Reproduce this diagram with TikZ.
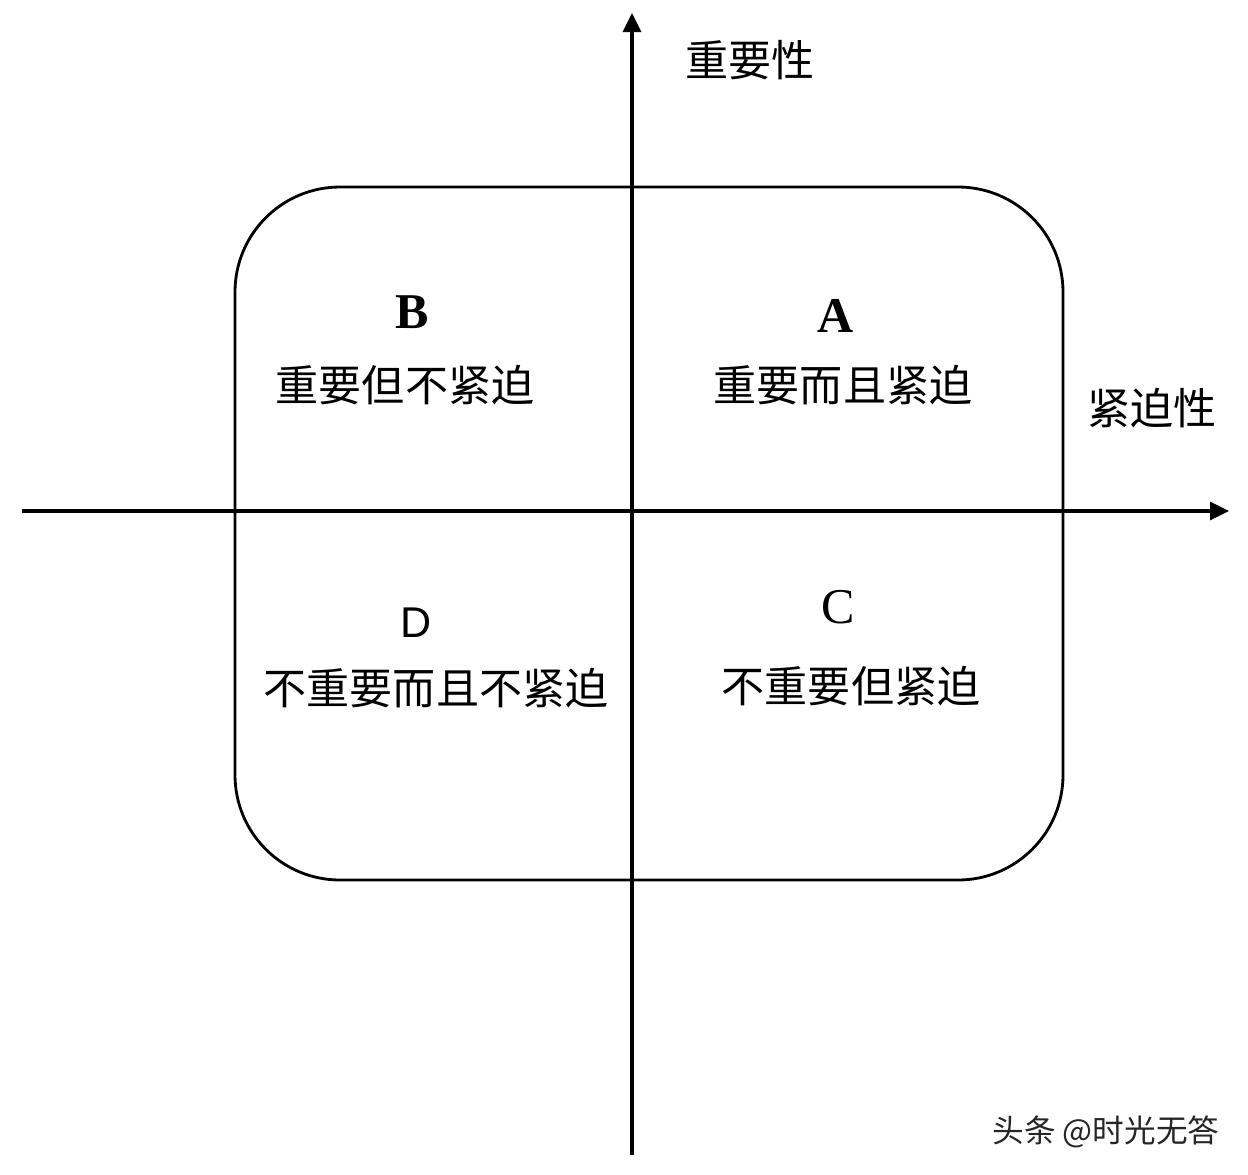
\documentclass[tikz,border=0pt]{standalone}
\usepackage{fontspec}
\setmainfont{Liberation Serif}
\newfontfamily\cjk{Noto Sans CJK SC}
\newfontfamily\lsans{Liberation Sans}
\usetikzlibrary{arrows.meta}
\begin{document}
\begin{tikzpicture}[x=0.02cm,y=-0.02cm,
  axisline/.style={line width=1.8pt,-{Triangle[length=0.38cm,width=0.36cm]}},
  frameline/.style={line width=1.6pt,rounded corners=2.1cm},
  cjklabel/.style={inner sep=0pt,font=\cjk\fontsize{24.5}{26}\selectfont},
  letterlabel/.style={inner sep=0pt,font=\fontsize{28.5}{30}\selectfont},
  mark label/.style={inner sep=0pt,font=\cjk\fontsize{18}{20}\selectfont,text=black!85}]
\useasboundingbox (0,0) rectangle (1248,1174);
\fill[white] (0,0) rectangle (1248,1174);
% axes
\coordinate (vbot) at (632,1155);
\coordinate (vtop) at (632,13);
\coordinate (hleft) at (22,511);
\coordinate (hright) at (1229,511);
\draw[frameline] (235,187) rectangle (1063,880);
\draw[axisline] (vbot) -- (vtop);
\draw[axisline] (hleft) -- (hright);
% axis labels
\node[cjklabel] (imp) at (750,60) {重要性};
\node[cjklabel] (urg) at (1152,408) {紧迫性};
% quadrants
\node[letterlabel,font=\bfseries\fontsize{28.5}{30}\selectfont] (B) at (412,312) {B};
\node[cjklabel] (Bt) at (405,385) {重要但不紧迫};
\node[letterlabel,font=\bfseries\fontsize{28.5}{30}\selectfont] (A) at (836,316) {A};
\node[cjklabel] (At) at (843,385) {重要而且紧迫};
\node[letterlabel,font=\lsans\fontsize{24.5}{26}\selectfont] (D) at (416,623) {D};
\node[cjklabel] (Dt) at (436,688) {不重要而且不紧迫};
\node[letterlabel] (C) at (838,607) {C};
\node[cjklabel] (Ct) at (851,686) {不重要但紧迫};
% watermark
\node[mark label] (wm) at (1106,1132) {头条 @时光无答};
\end{tikzpicture}
\end{document}
